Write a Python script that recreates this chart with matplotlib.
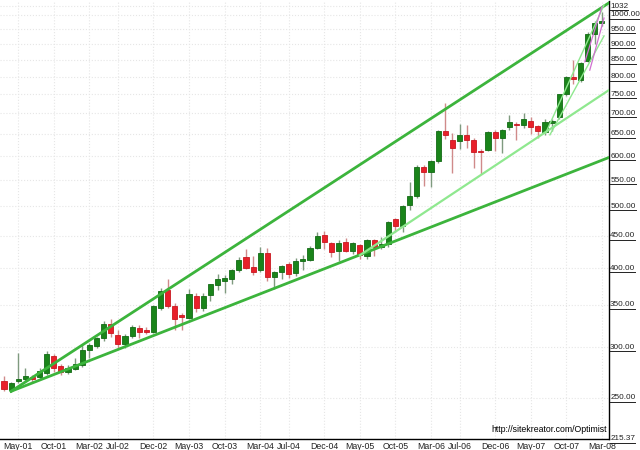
import matplotlib
matplotlib.use("Agg")
import matplotlib.pyplot as plt
import numpy as np
import matplotlib.transforms as mtransforms
from matplotlib.lines import Line2D
from matplotlib.ticker import FixedLocator, NullLocator

plt.rcParams["font.family"] = ["Liberation Sans", "DejaVu Sans"]

# monthly gold candles, Mar-01 .. Mar-08 (index 0 = Mar-01)
opens = [266, 257, 266, 268, 270, 270, 274, 291, 281, 275,
         278, 282, 297, 302, 310, 327, 314, 304, 313, 322,
         320, 317, 346, 369, 349, 337, 334, 361, 346, 363,
         376, 382, 384, 397, 417, 402, 397, 423, 387, 395,
         406, 393, 410, 412, 430, 451, 438, 425, 439, 426,
         435, 418, 442, 432, 437, 477, 466, 502, 520, 577,
         566, 590, 656, 636, 634, 647, 636, 612, 614, 655,
         640, 666, 675, 672, 680, 668, 655, 676, 690, 750,
         799, 790, 848, 935, 972]
highs = [271, 265, 294, 279, 272, 279, 296, 293, 283, 282,
         289, 303, 305, 312, 330, 332, 320, 315, 326, 325,
         323, 350, 372, 385, 353, 340, 371, 366, 365, 378,
         392, 390, 399, 416, 428, 418, 432, 430, 396, 405,
         409, 415, 419, 433, 456, 457, 440, 442, 446, 440,
         437, 444, 444, 448, 475, 480, 502, 546, 580, 580,
         592, 660, 728, 652, 673, 672, 640, 616, 658, 660,
         662, 697, 678, 700, 690, 672, 685, 685, 752, 802,
         850, 843, 940, 980, 1012]
lows = [256, 255, 264, 266, 265, 268, 272, 275, 272, 273,
        277, 280, 289, 299, 307, 312, 299, 299, 310, 311,
        315, 316, 343, 346, 320, 320, 332, 341, 342, 355,
        370, 366, 378, 395, 398, 390, 395, 381, 371, 385,
        386, 389, 397, 410, 428, 428, 416, 411, 424, 421,
        414, 414, 418, 428, 432, 456, 455, 493, 516, 538,
        536, 585, 638, 564, 616, 618, 575, 563, 612, 612,
        606, 660, 636, 665, 650, 640, 648, 656, 686, 745,
        780, 785, 845, 900, 960]
closes = [258, 264, 268, 271, 268, 276, 293, 279, 275, 279,
          283, 297, 303, 310, 327, 316, 304, 313, 323, 317,
          317, 348, 368, 349, 332, 335, 364, 346, 362, 377,
          384, 386, 397, 412, 400, 395, 423, 387, 394, 403,
          392, 411, 414, 430, 450, 439, 424, 438, 426, 438,
          419, 442, 431, 436, 472, 466, 500, 519, 577, 566,
          590, 656, 648, 617, 647, 636, 609, 609, 655, 640,
          659, 679, 672, 686, 667, 656, 678, 680, 750, 799,
          793, 840, 935, 972, 980]

xtick_pos = [2, 7, 12, 16, 21, 26, 31, 36, 40, 45, 50, 55, 60, 64, 69, 74, 79, 84]
xtick_labels = ["May-01", "Oct-01", "Mar-02", "Jul-02", "Dec-02", "May-03",
                "Oct-03", "Mar-04", "Jul-04", "Dec-04", "May-05", "Oct-05",
                "Mar-06", "Jul-06", "Dec-06", "May-07", "Oct-07", "Mar-08"]

ytick_vals = [215.37, 250, 300, 350, 400, 450, 500, 550, 600, 650, 700,
              750, 800, 850, 900, 950, 1000, 1032]
ytick_labels = ["215.37", "250.00", "300.00", "350.00", "400.00", "450.00",
                "500.00", "550.00", "600.00", "650.00", "700.00", "750.00",
                "800.00", "850.00", "900.00", "950.00", "1000.00", "1032"]

# trend lines: (month index, price) end points
upper_x, upper_y = [1, 85], [256, 1045]
lower_x, lower_y = [1, 85], [256, 597]
mid_x, mid_y = [50, 85], [419, 762]
steep_a_x, steep_a_y = [76.1, 84.3], [652, 1037]
steep_b_x, steep_b_y = [76.7, 84.3], [648, 927]
pink_a_x, pink_a_y = [81.6, 84.0], [844, 1030]
pink_b_x, pink_b_y = [82.3, 84.3], [819, 989]

fig = plt.figure(figsize=(6.4, 4.5), dpi=100)
ax = fig.add_axes([0, 11 / 450, 609 / 640, 438 / 450])

o = np.array(opens, float)
h = np.array(highs, float)
l = np.array(lows, float)
c = np.array(closes, float)
x = np.arange(len(o))
up = c >= o

ax.set_yscale("log")
ax.set_ylim(215.37, 1052)
ax.set_xlim(-0.56, 85.0)

ax.vlines(x[up], l[up], h[up], colors="#7f9a7f", lw=1, zorder=2)
ax.vlines(x[~up], l[~up], h[~up], colors="#d08a8a", lw=1, zorder=2)
body_lo = np.minimum(o, c)
body_h = np.maximum(np.abs(c - o), 1.5)
ax.bar(x[up], body_h[up], bottom=body_lo[up], width=0.72, color="#1a841a",
       edgecolor="#136a15", lw=0.6, zorder=3)
ax.bar(x[~up], body_h[~up], bottom=body_lo[~up], width=0.72, color="#e8202a",
       edgecolor="#c81820", lw=0.6, zorder=3)

ax.plot(upper_x, upper_y, color="#3cb43c", lw=2, zorder=4)
ax.plot(lower_x, lower_y, color="#3cb43c", lw=2, zorder=4)
ax.plot(mid_x, mid_y, color="#8fe88f", lw=1.6, zorder=4)
ax.plot(steep_a_x, steep_a_y, color="#8fe88f", lw=1, zorder=4)
ax.plot(steep_b_x, steep_b_y, color="#8fe88f", lw=1, zorder=4)
ax.plot(pink_a_x, pink_a_y, color="#d070d0", lw=0.9, zorder=4)
ax.plot(pink_b_x, pink_b_y, color="#d070d0", lw=0.9, zorder=4)

# grid + axes
ax.yaxis.set_major_locator(FixedLocator(ytick_vals))
ax.yaxis.set_minor_locator(NullLocator())
ax.set_xticks(xtick_pos)
ax.set_xticklabels(xtick_labels)
ax.grid(True, color="#e6e6e6", ls=":", lw=0.8, zorder=0)
ax.tick_params(axis="y", length=0, labelleft=False, labelright=False)
ax.tick_params(axis="x", length=0, labelsize=6.3, labelcolor="#222222", pad=2)
for s in ["left", "top"]:
    ax.spines[s].set_visible(False)
for s in ["right", "bottom"]:
    ax.spines[s].set_color("black")
    ax.spines[s].set_linewidth(1)

trans = mtransforms.blended_transform_factory(ax.transAxes, ax.transData)
ylabels = []
for v, s in zip(ytick_vals, ytick_labels):
    t = ax.text(1.002, v, s, transform=trans, ha="left", va="center",
                fontsize=5.9, color="#222222", clip_on=False)
    ylabels.append(t)

ax.text(0.996, 0.012, "http://sitekreator.com/Optimist", transform=ax.transAxes,
        ha="right", va="bottom", fontsize=6.3, color="black")

fig.canvas.draw()
r = fig.canvas.get_renderer()
for t in ylabels:
    bb = t.get_window_extent(r)
    fig.add_artist(Line2D([bb.x0, bb.x1], [bb.y0 - 0.5, bb.y0 - 0.5],
                          transform=mtransforms.IdentityTransform(),
                          color="#222222", lw=0.7))

fig.savefig("out.png", dpi=100)
